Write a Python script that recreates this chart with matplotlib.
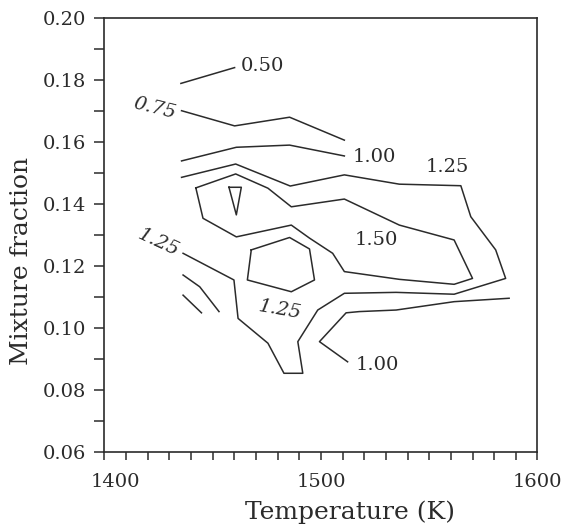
import matplotlib
matplotlib.use("Agg")
import matplotlib.pyplot as plt
import matplotlib.transforms as mtransforms
from matplotlib.ticker import MultipleLocator

# Contour polylines (Temperature K, mixture fraction)
c050_t = [1435.3, 1460.1]
c050_z = [0.1789, 0.1840]

c075_t = [1435.6, 1460.1, 1485.5, 1510.8]
c075_z = [0.1701, 0.1652, 0.1680, 0.1606]

c100_upper_t = [1435.6, 1460.9, 1485.5, 1510.8]
c100_upper_z = [0.1539, 0.1583, 0.1590, 0.1555]

c125_outer_t = [1435.6, 1460.6, 1485.8, 1510.8, 1536.2, 1564.6, 1569.2, 1580.7,
                1585.3, 1561.5, 1534.7, 1510.8, 1498.5, 1489.3, 1491.6, 1482.9,
                1475.5, 1461.7, 1459.8, 1436.3]
c125_outer_z = [0.1486, 0.1529, 0.1458, 0.1494, 0.1464, 0.1459, 0.1359, 0.1252,
                0.1160, 0.1109, 0.1115, 0.1112, 0.1058, 0.0956, 0.0854, 0.0854,
                0.0951, 0.1031, 0.1155, 0.1241]

c150_t = [1442.2, 1445.5, 1460.9, 1486.3, 1494.7, 1505.4, 1510.8, 1536.2,
          1561.5, 1570.0, 1561.5, 1536.2, 1510.8, 1486.3, 1475.5, 1460.6, 1442.2]
c150_z = [0.1452, 0.1354, 0.1294, 0.1332, 0.1290, 0.1241, 0.1182, 0.1157,
          0.1141, 0.1160, 0.1284, 0.1332, 0.1416, 0.1391, 0.1451, 0.1497, 0.1452]

c175_t = [1457.5, 1463.2, 1460.9, 1457.5]
c175_z = [0.1454, 0.1454, 0.1365, 0.1454]

c125_inner_t = [1467.8, 1485.5, 1494.7, 1497.0, 1486.3, 1466.0, 1467.8]
c125_inner_z = [0.1252, 0.1292, 0.1255, 0.1155, 0.1117, 0.1155, 0.1252]

c_low_a_t = [1436.3, 1444.0, 1452.9]
c_low_a_z = [0.1171, 0.1133, 0.1053]
c_low_b_t = [1436.3, 1444.8]
c_low_b_z = [0.1106, 0.1049]

c100_lower_t = [1512.3, 1499.3, 1511.6, 1517.7, 1534.7, 1561.5, 1586.9]
c100_lower_z = [0.0891, 0.0956, 0.1049, 0.1053, 0.1058, 0.1085, 0.1096]

# contour labels: text, T, z, rotation, italic
label_text = ["0.50", "0.75", "1.00", "1.25", "1.50", "1.25", "1.25", "1.00"]
label_t = [1473.0, 1423.3, 1524.7, 1558.3, 1525.6, 1425.1, 1480.9, 1526.0]
label_z = [0.1845, 0.1710, 0.1552, 0.1519, 0.1284, 0.1277, 0.1058, 0.0881]
label_rot = [0, -14, 0, 0, 0, -25, -10, 0]
label_italic = [False, True, False, False, False, True, True, False]

x_ticks = [1400, 1500, 1600]

INK = "#2b2b2b"
plt.rcParams["font.family"] = "DejaVu Serif"

fig = plt.figure(figsize=(5.66, 5.28), dpi=100)
ax = fig.add_axes([0.1846, 0.1439, 0.7650, 0.8220])

lines = [(c050_t, c050_z), (c075_t, c075_z), (c100_upper_t, c100_upper_z),
         (c125_outer_t, c125_outer_z), (c150_t, c150_z), (c175_t, c175_z),
         (c125_inner_t, c125_inner_z), (c_low_a_t, c_low_a_z),
         (c_low_b_t, c_low_b_z), (c100_lower_t, c100_lower_z)]
for t, z in lines:
    ax.plot(t, z, color=INK, lw=1.1)

for s, t, z, r, it in zip(label_text, label_t, label_z, label_rot, label_italic):
    ax.text(t, z, s, rotation=r, ha="center", va="center", fontsize=14,
            color=INK, style="italic" if it else "normal")

ax.set_xlim(1400, 1600)
ax.set_ylim(0.06, 0.20)
ax.set_xticks(x_ticks)
ax.xaxis.set_minor_locator(MultipleLocator(10))
ax.yaxis.set_major_locator(MultipleLocator(0.02))
ax.yaxis.set_minor_locator(MultipleLocator(0.01))
ax.yaxis.set_major_formatter(plt.FuncFormatter(lambda v, p: f"{v:.2f}"))

ax.tick_params(axis="x", which="both", direction="out", length=6, width=1.1,
               color=INK, labelcolor=INK, labelsize=14, pad=9)
ax.tick_params(axis="y", which="both", direction="out", length=7, width=1.1,
               color=INK, labelcolor=INK, labelsize=14, pad=6)
for sp in ax.spines.values():
    sp.set_color(INK)
    sp.set_linewidth(1.2)

# first x label sits a little to the right of its tick in the original
first = ax.get_xticklabels()[0]
first.set_transform(first.get_transform() +
                    mtransforms.ScaledTranslation(0.11, 0, fig.dpi_scale_trans))

ax.set_xlabel("Temperature (K)", fontsize=18, color=INK)
ax.set_ylabel("Mixture fraction", fontsize=18, color=INK)
ax.xaxis.set_label_coords(0.568, -0.111)
ax.yaxis.set_label_coords(-0.165, 0.44)

fig.savefig("out.png", dpi=100)
